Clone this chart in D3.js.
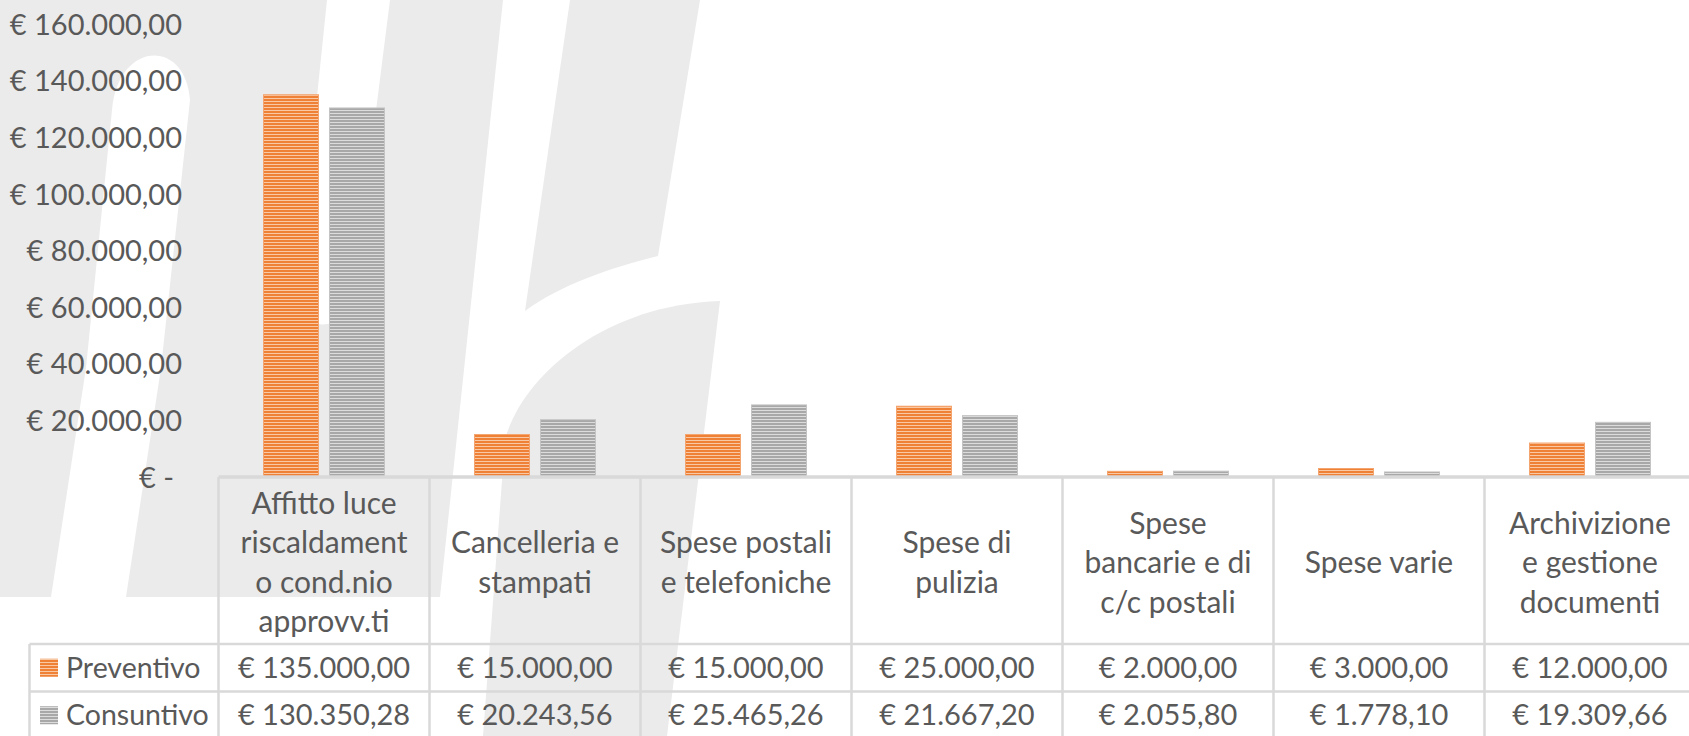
<!DOCTYPE html>
<html>
<head>
<meta charset="utf-8">
<script src="https://cdn.jsdelivr.net/npm/d3@7"></script>
<style>
  html, body { margin: 0; padding: 0; background: #fff; overflow: hidden; }
  svg { display: block; font-family: Lato, "Open Sans", sans-serif; }
</style>
</head>
<body>
<div id="chart"></div>
<script>
const categories = [
  'Affitto luce\nriscaldament\no cond.nio\napprovv.ti',
  'Cancelleria e\nstampati',
  'Spese postali\ne telefoniche',
  'Spese di\npulizia',
  'Spese\nbancarie e di\nc/c postali',
  'Spese varie',
  'Archivizione\ne gestione\ndocumenti'
];
const preventivo = [135000, 15000, 15000, 25000, 2000, 3000, 12000];
const consuntivo = [130350.28, 20243.56, 25465.26, 21667.20, 2055.80, 1778.10, 19309.66];
const seriesNames = ['Preventivo', 'Consuntivo'];
const yTicks = [0, 20000, 40000, 60000, 80000, 100000, 120000, 140000, 160000];

const width = 1689;
const height = 736;
const ml = 218.5, mt = 24;
const bandW = 211;
const axisY = 477;
const headerBottom = 644;
const rowH = 47.5;
const numSize = 29, wordSize = 30;
const textColor = '#595959';

const fmt = v => '€ ' + v.toFixed(2).replace('.', ',').replace(/\B(?=(\d{3})+(?!\d))/g, '.');

const svg = d3.select('#chart')
  .append('svg')
  .attr('width', width)
  .attr('height', height)
  .attr('viewBox', [0, 0, width, height]);

const defs = svg.append('defs');
// righe orizzontali stile Excel
function stripe(id, dark, light) {
  const p = defs.append('pattern')
    .attr('id', id)
    .attr('patternUnits', 'userSpaceOnUse')
    .attr('width', 8).attr('height', 3);
  p.append('rect').attr('width', 8).attr('height', 3).attr('fill', light);
  p.append('rect').attr('width', 8).attr('height', 2).attr('fill', dark);
}
stripe('pOrange', '#ef8136', '#f9c9a6');
stripe('pGray', '#a8a8a8', '#dcdcdc');
const fills = ['url(#pOrange)', 'url(#pGray)'];
const edge = ['#f4a46e', '#c4c4c4'];

// filigrana sullo sfondo
const wm = svg.append('g').attr('fill', '#ebebeb');
wm.append('path').attr('d',
  'M-80,0 L503,0 L440,597 L-80,597 Z');
wm.append('path').attr('fill', '#fff').attr('d',
  'M51,597 L86,368 L112,110 C118,40 186,38 190,100 L161,368 L126,597 Z');
wm.append('path').attr('fill', '#fff').attr('d',
  'M327,0 L390,0 L352,300 C348,335 292,330 296,300 Z');
wm.append('path').attr('d',
  'M570,0 L700,0 L658,256 C610,268 560,285 525,311 Z');
wm.append('path').attr('d',
  'M483,736 L505,440 C520,380 600,305 720,301 L667,736 Z');

const x = d3.scaleBand()
  .domain(d3.range(categories.length))
  .range([ml, ml + bandW * categories.length])
  .paddingInner(0).paddingOuter(0);

const y = d3.scaleLinear()
  .domain([0, 160000])
  .range([axisY, mt]);

const barW = 55, gap = 11;

// asse y
const yAxis = d3.axisLeft(y)
  .tickValues(yTicks)
  .tickSize(0)
  .tickPadding(0)
  .tickFormat(d => d === 0 ? '€ -' : fmt(d));
const yAxisG = svg.append('g')
  .attr('transform', 'translate(182,0)')
  .call(yAxis);
yAxisG.select('.domain').remove();
yAxisG.selectAll('text')
  .attr('fill', textColor)
  .attr('font-size', numSize)
  .attr('font-family', 'Lato, sans-serif')
  .attr('dy', '0.35em')
  .attr('dx', d => d === 0 ? -8 : 0);

// barre
const data = [preventivo, consuntivo];
data.forEach((vals, si) => {
  svg.append('g').selectAll('rect')
    .data(vals)
    .join('rect')
    .attr('x', (d, i) => x(i) + (bandW - 2 * barW - gap) / 2 + si * (barW + gap))
    .attr('y', d => y(d))
    .attr('width', barW)
    .attr('height', d => axisY - y(d))
    .attr('fill', fills[si])
    .attr('stroke', edge[si])
    .attr('stroke-width', 1);
});

// tabella dati
const grid = svg.append('g')
  .attr('stroke', '#d9d9d9')
  .attr('stroke-width', 2.5);
const right = ml + bandW * categories.length;
grid.append('line').attr('x1', ml).attr('x2', right).attr('y1', axisY).attr('y2', axisY).attr('stroke-width', 3.5);
grid.append('line').attr('x1', 29.5).attr('x2', right).attr('y1', headerBottom).attr('y2', headerBottom);
grid.append('line').attr('x1', 29.5).attr('x2', right).attr('y1', headerBottom + rowH).attr('y2', headerBottom + rowH);
grid.append('line').attr('x1', 29.5).attr('x2', 29.5).attr('y1', headerBottom).attr('y2', height + 5);
grid.selectAll('.v')
  .data(d3.range(categories.length + 1))
  .join('line')
  .attr('x1', i => ml + i * bandW)
  .attr('x2', i => ml + i * bandW)
  .attr('y1', axisY)
  .attr('y2', height + 5);

const txt = svg.append('g')
  .attr('fill', textColor)
  .attr('font-family', 'Lato, sans-serif')
  .attr('text-anchor', 'middle');

const lineH = 39.5;
categories.forEach((c, i) => {
  const lines = c.split('\n');
  const cy = (axisY + headerBottom) / 2 + 2 - (lines.length - 1) * lineH / 2;
  const t = txt.append('text')
    .attr('font-size', wordSize);
  lines.forEach((l, k) => {
    t.append('tspan')
      .attr('x', x(i) + bandW / 2)
      .attr('y', cy + k * lineH)
      .attr('dy', '0.35em')
      .text(l);
  });
});

data.forEach((vals, si) => {
  const ry = headerBottom + rowH * si + rowH / 2;
  txt.selectAll(null)
    .data(vals)
    .join('text')
    .attr('font-size', numSize)
    .attr('x', (d, i) => x(i) + bandW / 2)
    .attr('y', ry)
    .attr('dy', '0.35em')
    .text(d => fmt(d));
  svg.append('rect')
    .attr('x', 40).attr('y', ry - 9)
    .attr('width', 18).attr('height', 18)
    .attr('fill', fills[si]);
  svg.append('text')
    .attr('x', 66).attr('y', ry)
    .attr('dy', '0.35em')
    .attr('fill', textColor)
    .attr('font-size', 28.5)
    .attr('font-family', 'Lato, sans-serif')
    .text(seriesNames[si]);
});
</script>
</body>
</html>
